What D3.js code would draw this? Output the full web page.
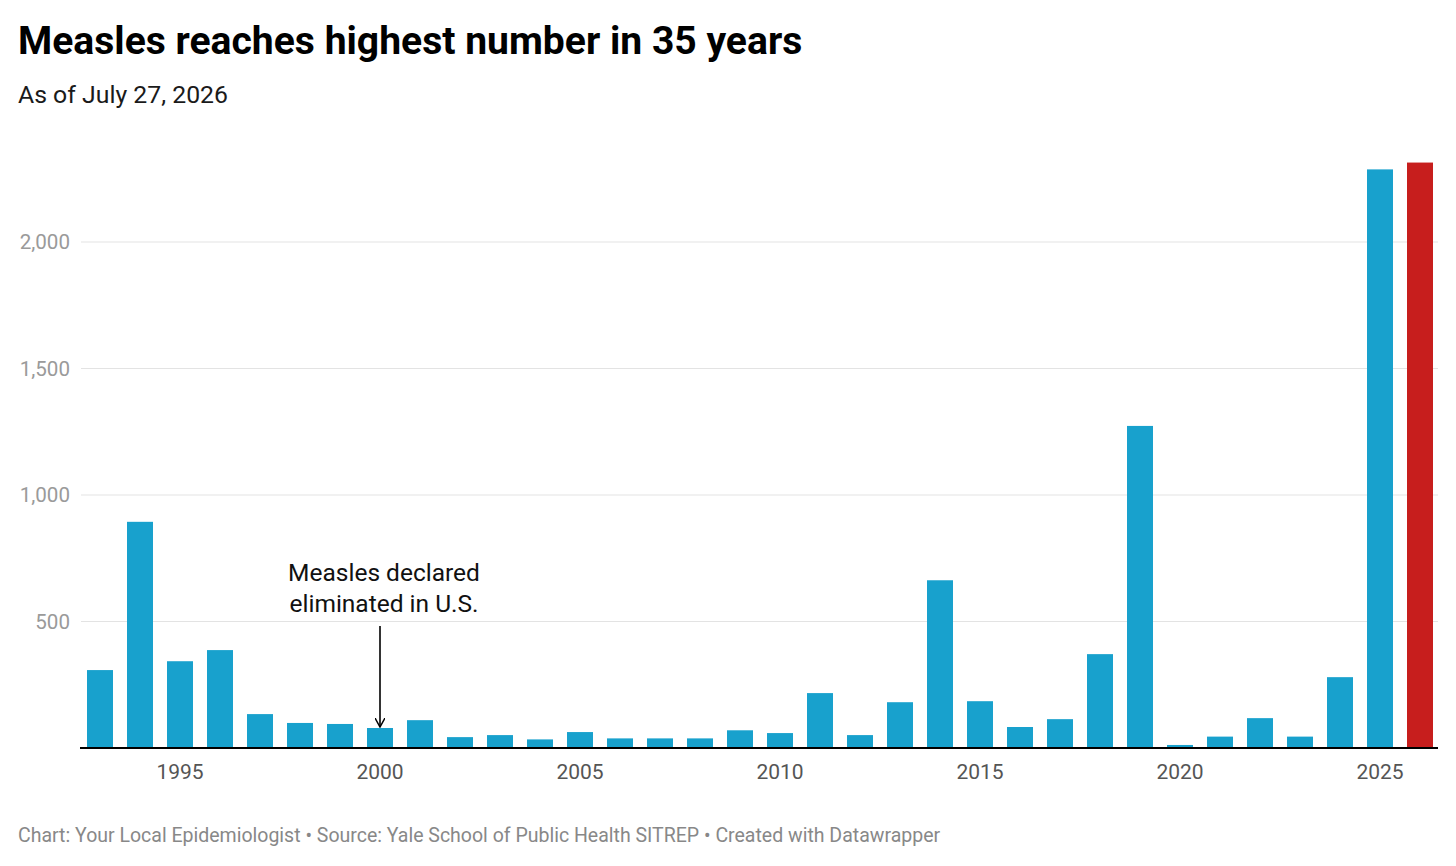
<!DOCTYPE html>
<html>
<head>
<meta charset="utf-8">
<script src="https://cdn.jsdelivr.net/npm/d3@7"></script>
<style>
	body { margin: 0; background: #fff; }
	svg text { font-family: Roboto, "Noto Sans", sans-serif; }
</style>
</head>
<body>
<svg id="chart" width="1456" height="866"></svg>
<script>
// Measles cases per year
var years = [1993, 1994, 1995, 1996, 1997, 1998, 1999, 2000, 2001, 2002,
	2003, 2004, 2005, 2006, 2007, 2008, 2009, 2010, 2011, 2012,
	2013, 2014, 2015, 2016, 2017, 2018, 2019, 2020, 2021, 2022,
	2023, 2024, 2025, 2026];
var cases = [308, 894, 343, 387, 134, 99, 95, 79, 110, 43,
	51, 34, 63, 38, 38, 38, 70, 59, 217, 51,
	181, 663, 185, 83, 114, 371, 1273, 12, 45, 118,
	45, 280, 2287, 2314];
var highlightYear = 2026;
var yTicks = [500, 1000, 1500, 2000];
var xTicks = [1995, 2000, 2005, 2010, 2015, 2020, 2025];

var title = "Measles reaches highest number in 35 years";
var subtitle = "As of July 27, 2026";
var footer = "Chart: Your Local Epidemiologist \u2022 Source: Yale School of Public Health SITREP \u2022 Created with Datawrapper";
var note = { year: 2000, lines: ["Measles declared", "eliminated in U.S."] };

var svg = d3.select("#chart");

var left = 80, right = 1440, bottom = 748;

var x = d3.scaleBand()
	.domain(years)
	.range([left, right])
	.paddingInner(0.35)
	.paddingOuter(0.175);

var y = d3.scaleLinear()
	.domain([0, 2000])
	.range([bottom, 242]);

// Headline block
svg.append("text")
	.attr("x", 18).attr("y", 54)
	.attr("font-size", 39.1).attr("font-weight", 700)
	.attr("fill", "#000")
	.text(title);

svg.append("text")
	.attr("x", 18).attr("y", 103)
	.attr("font-size", 24.8)
	.attr("fill", "#1a1a1a")
	.text(subtitle);

// Grid lines and y labels
var grid = svg.append("g");
yTicks.forEach(function(t)
{
	grid.append("line")
		.attr("x1", left + 1).attr("x2", right - 2)
		.attr("y1", y(t)).attr("y2", y(t))
		.attr("stroke", "#e3e3e3").attr("stroke-width", 1.2);
	grid.append("text")
		.attr("x", 70).attr("y", y(t))
		.attr("dy", "0.35em")
		.attr("text-anchor", "end")
		.attr("font-size", 20.6)
		.attr("fill", "#9a9a9a")
		.text(d3.format(",")(t));
});

// Bars
svg.append("g").selectAll("rect")
	.data(years)
	.join("rect")
	.attr("x", function(d) { return x(d); })
	.attr("width", x.bandwidth())
	.attr("y", function(d, i) { return y(cases[i]); })
	.attr("height", function(d, i) { return bottom - y(cases[i]); })
	.attr("fill", function(d) { return d === highlightYear ? "#c71e1d" : "#18a1cd"; });

// Baseline
svg.append("line")
	.attr("x1", left).attr("x2", right - 2)
	.attr("y1", bottom).attr("y2", bottom)
	.attr("stroke", "#000").attr("stroke-width", 2);

// X axis labels
var xAxis = d3.axisBottom(x)
	.tickValues(xTicks)
	.tickSize(0)
	.tickPadding(16);

var gx = svg.append("g")
	.attr("transform", "translate(0," + bottom + ")")
	.call(xAxis);
gx.select(".domain").remove();
gx.selectAll("text")
	.attr("font-size", 21)
	.attr("fill", "#555")
	.attr("font-family", "Roboto, sans-serif");

// Annotation
var ax = x(note.year) + x.bandwidth() / 2;
var ann = svg.append("text")
	.attr("x", ax + 4).attr("y", 581)
	.attr("text-anchor", "middle")
	.attr("font-size", 24.5)
	.attr("fill", "#111");
note.lines.forEach(function(line, i)
{
	ann.append("tspan")
		.attr("x", ax + 4)
		.attr("dy", i === 0 ? 0 : 31)
		.text(line);
});

svg.append("defs").append("marker")
	.attr("id", "arrow")
	.attr("viewBox", "0 0 10 10")
	.attr("refX", 9).attr("refY", 5)
	.attr("markerWidth", 10).attr("markerHeight", 10)
	.attr("markerUnits", "userSpaceOnUse")
	.attr("orient", "auto")
	.append("path")
	.attr("d", "M0,0 L9,5 L0,10")
	.attr("fill", "none")
	.attr("stroke", "#000")
	.attr("stroke-width", 1.5);

svg.append("line")
	.attr("x1", ax).attr("x2", ax)
	.attr("y1", 626).attr("y2", y(cases[years.indexOf(note.year)]) - 1)
	.attr("stroke", "#000").attr("stroke-width", 1.6)
	.attr("marker-end", "url(#arrow)");

// Footer
svg.append("text")
	.attr("x", 18).attr("y", 842)
	.attr("font-size", 19.5)
	.attr("fill", "#888")
	.text(footer);
</script>
</body>
</html>
